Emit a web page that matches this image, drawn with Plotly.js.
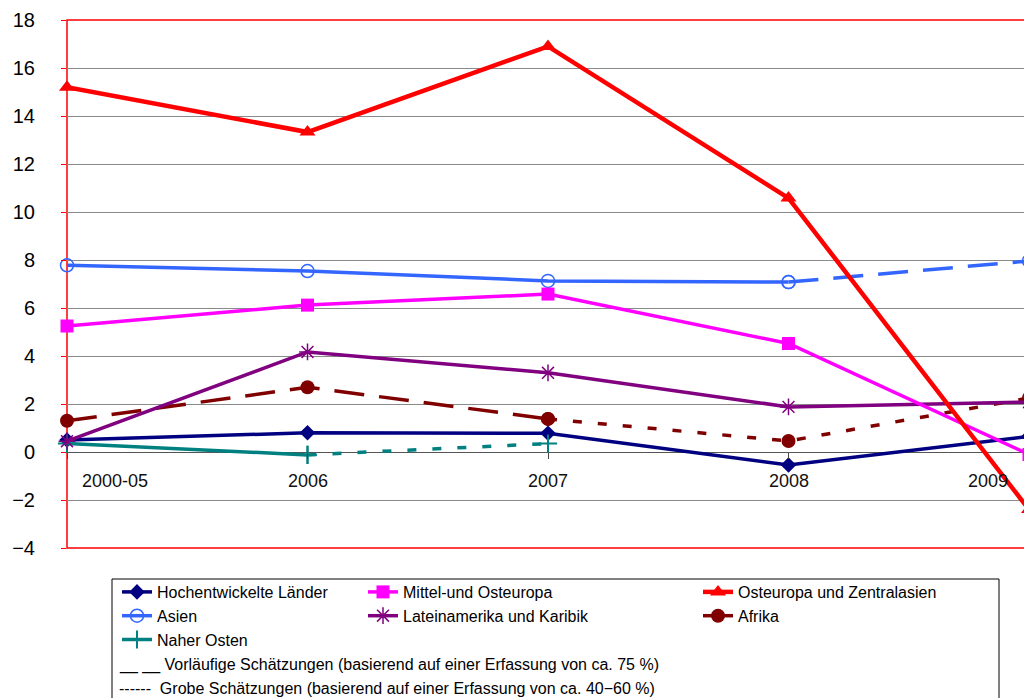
<!DOCTYPE html>
<html><head><meta charset="utf-8">
<script src="https://cdn.plot.ly/plotly-3.0.1.min.js"></script>
<style>html,body{margin:0;padding:0;overflow:hidden;background:#fff;width:1024px;height:698px}#chart{width:1040px;height:698px}</style>
</head><body><div id="chart"></div>
<script>
// ---- data ----
const categories = ['2000-05', '2006', '2007', '2008', '2009'];
const hochentwickelte = [0.5, 0.8, 0.78, -0.54, 0.65];
const mittelOsteuropa = [5.25, 6.12, 6.58, 4.52, -0.1];
const osteuropaZentralasien = [15.2, 13.33, 16.9, 10.58, -2.4];
const asien = [7.78, 7.54, 7.13, 7.08, 7.96];
const lateinamerika = [0.45, 4.17, 3.3, 1.88, 2.08];
const afrika = [1.3, 2.7, 1.38, 0.46, 2.25];
const naherOsten = [0.35, -0.12, 0.35, null, null];
const yTicks = [-4, -2, 0, 2, 4, 6, 8, 10, 12, 14, 16, 18];
const names = {
  hoch: 'Hochentwickelte Länder',
  mittel: 'Mittel-und Osteuropa',
  ost: 'Osteuropa und Zentralasien',
  asien: 'Asien',
  latein: 'Lateinamerika und Karibik',
  afrika: 'Afrika',
  nahost: 'Naher Osten'
};
const noteLines = [
  '__ __ Vorläufige Schätzungen (basierend auf einer Erfassung von ca. 75 %)',
  '------\u00a0\u00a0Grobe Schätzungen (basierend auf einer Erfassung von ca. 40\u221260 %)'
];

// ---- helpers ----
function seg(vals, from, to) {
  return vals.map((v, i) => (i >= from && i <= to) ? v : null);
}
const LONG = '30px,15px';
const SHORT = '9px,16px';

function tr(vals, color, width, dash, marker, opts) {
  return Object.assign({
    type: 'scatter', mode: 'lines+markers', x: categories, y: vals,
    line: {color: color, width: width, dash: dash},
    marker: marker, cliponaxis: false, connectgaps: false, hoverinfo: 'skip'
  }, opts || {});
}

const navy = '#000080', mag = '#FF00FF', red = '#FF0000', blue = '#3366FF',
      purple = '#800080', maroon = '#800000', teal = '#008080';

const mNavy = {symbol: 'diamond', size: 12, color: navy};
const mTeal = {symbol: 'cross-thin-open', size: 13, color: teal, line: {color: teal, width: 2}};
const mAfr = {symbol: 'circle', size: 14, color: maroon};
const mLat = {symbol: 'asterisk-open', size: 14, color: purple, line: {color: purple, width: 1.5}};
const mAs = {symbol: 'circle-open', size: 13, color: blue, line: {color: blue, width: 1.5}};
const mMag = {symbol: 'square', size: 13, color: mag};
const mRed = {symbol: 'triangle-up', size: 14, color: red};

const data = [
  tr(hochentwickelte, navy, 3.5, 'solid', mNavy, {name: names.hoch, legend: 'legend', legendrank: 1}),
  tr(seg(naherOsten, 0, 1), teal, 3.5, 'solid', mTeal, {name: names.nahost, legend: 'legend', legendrank: 3}),
  tr(seg(naherOsten, 1, 2), teal, 3.5, SHORT, mTeal, {showlegend: false}),
  tr(seg(afrika, 0, 2), maroon, 3.5, LONG, mAfr, {name: names.afrika, legend: 'legend3', legendrank: 2}),
  tr(seg(afrika, 2, 4), maroon, 3.5, SHORT, mAfr, {showlegend: false}),
  tr(lateinamerika, purple, 3.5, 'solid', mLat, {name: names.latein, legend: 'legend2', legendrank: 2}),
  tr(seg(asien, 0, 3), blue, 3.5, 'solid', mAs, {name: names.asien, legend: 'legend', legendrank: 2}),
  tr(seg(asien, 3, 4), blue, 3.5, LONG, mAs, {showlegend: false}),
  tr(mittelOsteuropa, mag, 3.5, 'solid', mMag, {name: names.mittel, legend: 'legend2', legendrank: 1}),
  tr(osteuropaZentralasien, red, 4.5, 'solid', mRed, {name: names.ost, legend: 'legend3', legendrank: 1})
];

const plotL = 67, plotW = 962, plotB = 548, plotH = 528;
const px2x = p => (p - plotL) / plotW;
const py2y = p => (plotB - p) / plotH;

// category labels sit just under the zero line, the outer two pulled inwards
const labelShift = categories.map((c, i) => i === 0 ? 48 : (i === categories.length - 1 ? -41 : 0));
const catLabels = categories.map((c, i) => ({
  xref: 'x', yref: 'y', x: i, y: 0, yshift: -29, xshift: labelShift[i],
  xanchor: 'center', yanchor: 'middle', showarrow: false, text: c,
  font: {size: 18, color: '#111'}
}));

const legendBase = {
  bgcolor: 'rgba(0,0,0,0)', borderwidth: 0, orientation: 'v', traceorder: 'normal',
  font: {size: 16, color: '#000'}, xanchor: 'left', yanchor: 'top', y: py2y(575)
};

const layout = {
  width: 1040, height: 698,
  margin: {l: plotL, r: 11, t: 20, b: 150},
  paper_bgcolor: '#fff', plot_bgcolor: '#fff',
  font: {family: '"Liberation Sans", Arial, sans-serif', color: '#000'},
  showlegend: true,
  xaxis: {
    type: 'category', categoryorder: 'array', categoryarray: categories,
    range: [0, categories.length - 1], anchor: 'free', position: 4 / 22,
    showgrid: false, showline: false, zeroline: false,
    ticks: 'outside', ticklen: 6, tickcolor: '#444', tickwidth: 1,
    showticklabels: false
  },
  yaxis: {
    range: [-4, 18], tickvals: yTicks, ticks: 'outside', ticklen: 5, tickcolor: red,
    showgrid: true, gridcolor: '#8a8a8a', gridwidth: 1,
    zeroline: true, zerolinecolor: '#555', zerolinewidth: 1,
    showline: false, tickfont: {size: 20, color: '#000'}, ticklabelstandoff: 22
  },
  legend: Object.assign({}, legendBase, {x: px2x(117)}),
  legend2: Object.assign({}, legendBase, {x: px2x(363)}),
  legend3: Object.assign({}, legendBase, {x: px2x(698)}),
  shapes: [
    {type: 'rect', xref: 'paper', yref: 'paper', x0: 0, x1: 1, y0: 0, y1: 1,
     line: {color: red, width: 1.5}, layer: 'between'},
    {type: 'rect', xref: 'paper', yref: 'paper', x0: px2x(112), x1: px2x(999),
     y0: py2y(579), y1: py2y(760), line: {color: '#000', width: 1}}
  ],
  annotations: catLabels.concat(noteLines.map((t, i) => ({
    xref: 'paper', yref: 'paper', x: px2x(117), y: py2y(i === 0 ? 665 : 688),
    xanchor: 'left', yanchor: 'middle', showarrow: false, text: t,
    font: {size: 16, color: '#000'}
  })))
};

Plotly.newPlot('chart', data, layout, {displayModeBar: false, staticPlot: true});
</script>
</body></html>
